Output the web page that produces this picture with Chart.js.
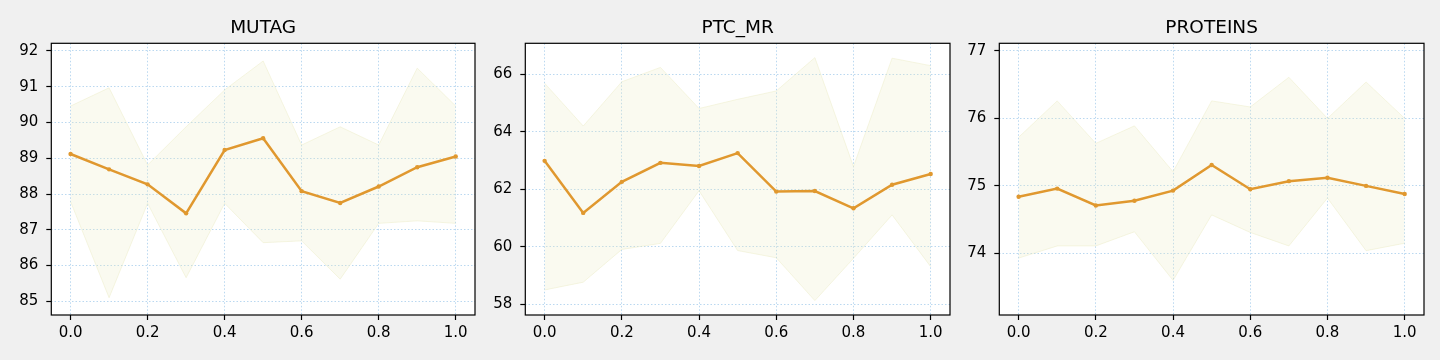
<!DOCTYPE html>
<html>
<head>
  <meta charset="UTF-8" />
  <title>MUTAG / PTC_MR / PROTEINS</title>
  <script src="https://cdn.jsdelivr.net/npm/chart.js"></script>
  <style>
    body {
      margin: 0;
      background: #f0f0f0;
      width: 1440px;
      height: 360px;
      overflow: hidden;
      position: relative;
    }

    canvas {
      position: absolute;
      top: 0;
    }
  </style>
</head>
<body>

  <canvas id="chart-mutag" width="479" height="360" style="left:0px"></canvas>
  <canvas id="chart-ptc" width="474" height="360" style="left:480px"></canvas>
  <canvas id="chart-proteins" width="473" height="360" style="left:955px"></canvas>

  <script>
    const xValues = [0.0, 0.1, 0.2, 0.3, 0.4, 0.5, 0.6, 0.7, 0.8, 0.9, 1.0];
    const xTicks = [0.0, 0.2, 0.4, 0.6, 0.8, 1.0];

    const mutagMean  = [89.12, 88.69, 88.27, 87.46, 89.23, 89.56, 88.08, 87.75, 88.21, 88.75, 89.05];
    const mutagUpper = [90.46, 90.97, 88.81, 89.88, 90.91, 91.72, 89.37, 89.88, 89.37, 91.52, 90.46];
    const mutagLower = [87.79, 85.10, 87.74, 85.66, 87.74, 86.64, 86.69, 85.62, 87.18, 87.25, 87.18];
    const mutagTicks = [85, 86, 87, 88, 89, 90, 91, 92];

    const ptcMean  = [62.99, 61.18, 62.26, 62.92, 62.81, 63.26, 61.92, 61.94, 61.34, 62.16, 62.53];
    const ptcUpper = [65.69, 64.20, 65.74, 66.24, 64.81, 65.13, 65.42, 66.58, 62.79, 66.56, 66.30];
    const ptcLower = [58.50, 58.77, 59.91, 60.12, 61.95, 59.87, 59.62, 58.13, 59.60, 61.11, 59.31];
    const ptcTicks = [58, 60, 62, 64, 66];

    const proteinsMean  = [74.84, 74.96, 74.71, 74.78, 74.93, 75.31, 74.95, 75.07, 75.12, 75.00, 74.88];
    const proteinsUpper = [75.72, 76.26, 75.63, 75.89, 75.21, 76.26, 76.17, 76.61, 76.00, 76.54, 76.00];
    const proteinsLower = [73.93, 74.11, 74.11, 74.32, 73.60, 74.57, 74.31, 74.11, 74.82, 74.04, 74.15];
    const proteinsTicks = [74, 75, 76, 77];

    const FONT = '"DejaVu Sans", sans-serif';
    const LINE_COLOR = '#e0982f';
    const BAND_FILL = 'rgba(235,235,195,0.25)';
    const BAND_EDGE = 'rgba(235,235,195,0.45)';
    const GRID_COLOR = 'rgba(140,190,230,0.6)';

    // white plot background, frame around the plot, title centred on the plot area
    const framePlugin = {
      id: 'frame',
      beforeDraw(chart) {
        const { ctx, chartArea: a } = chart;
        ctx.save();
        ctx.fillStyle = '#fff';
        ctx.fillRect(a.left, a.top, a.right - a.left, a.bottom - a.top);
        ctx.restore();
      },
      afterDraw(chart, args, opts) {
        const { ctx, chartArea: a } = chart;
        ctx.save();
        ctx.strokeStyle = '#000';
        ctx.lineWidth = 1.2;
        ctx.strokeRect(a.left, a.top, a.right - a.left, a.bottom - a.top);
        ctx.fillStyle = '#000';
        ctx.font = '18.5px ' + FONT;
        ctx.textAlign = 'center';
        ctx.textBaseline = 'alphabetic';
        ctx.fillText(opts.text, (a.left + a.right) / 2, 32.7);
        ctx.restore();
      }
    };

    function toPoints(values) {
      return xValues.map((x, i) => ({ x: x, y: values[i] }));
    }

    function makeChart(id, title, mean, upper, lower, yTicks, yMin, yMax, yWidth) {
      const canvas = document.getElementById(id);
      return new Chart(canvas.getContext('2d'), {
        type: 'line',
        data: {
          datasets: [
            {
              data: toPoints(mean),
              borderColor: LINE_COLOR,
              backgroundColor: LINE_COLOR,
              borderWidth: 2.5,
              pointRadius: 2.2,
              pointBorderWidth: 0,
              pointBackgroundColor: LINE_COLOR,
              tension: 0,
              fill: false
            },
            {
              data: toPoints(upper),
              borderColor: BAND_EDGE,
              borderWidth: 1,
              backgroundColor: BAND_FILL,
              pointRadius: 0,
              tension: 0,
              fill: '+1'
            },
            {
              data: toPoints(lower),
              borderColor: BAND_EDGE,
              borderWidth: 1,
              backgroundColor: BAND_FILL,
              pointRadius: 0,
              tension: 0,
              fill: false
            }
          ]
        },
        options: {
          responsive: false,
          animation: false,
          layout: { padding: { top: 43.3, right: 2, left: 0, bottom: 0 } },
          plugins: {
            legend: { display: false },
            tooltip: { enabled: false },
            frame: { text: title }
          },
          scales: {
            x: {
              type: 'linear',
              min: -0.05,
              max: 1.05,
              afterBuildTicks: scale => { scale.ticks = xTicks.map(v => ({ value: v })); },
              afterFit: scale => { scale.height = 45; },
              grid: {
                color: GRID_COLOR,
                lineWidth: 1,
                tickLength: 5,
                tickColor: '#000',
                tickWidth: 1.2
              },
              border: { display: false, dash: [1.5, 2] },
              ticks: {
                color: '#000',
                font: { family: FONT, size: 15 },
                padding: 4,
                maxRotation: 0,
                callback: v => v.toFixed(1)
              }
            },
            y: {
              type: 'linear',
              min: yMin,
              max: yMax,
              afterBuildTicks: scale => { scale.ticks = yTicks.map(v => ({ value: v })); },
              afterFit: scale => { scale.width = yWidth; },
              grid: {
                color: GRID_COLOR,
                lineWidth: 1,
                tickLength: 5,
                tickColor: '#000',
                tickWidth: 1.2
              },
              border: { display: false, dash: [1.5, 2] },
              ticks: {
                color: '#000',
                font: { family: FONT, size: 15 },
                padding: 8,
                callback: v => String(v)
              }
            }
          }
        },
        plugins: [framePlugin]
      });
    }

    makeChart('chart-mutag', 'MUTAG', mutagMean, mutagUpper, mutagLower, mutagTicks, 84.617, 92.215, 51.3);
    makeChart('chart-ptc', 'PTC_MR', ptcMean, ptcUpper, ptcLower, ptcTicks, 57.629, 67.078, 45.3);
    makeChart('chart-proteins', 'PROTEINS', proteinsMean, proteinsUpper, proteinsLower, proteinsTicks, 73.086, 77.114, 44.3);
  </script>
</body>
</html>
